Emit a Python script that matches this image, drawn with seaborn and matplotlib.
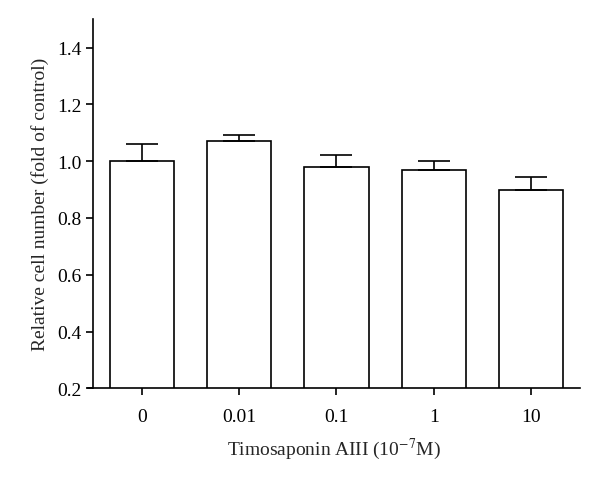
import numpy as np
import pandas as pd
import matplotlib
matplotlib.use('Agg')
import matplotlib.pyplot as plt
import seaborn as sns

# Data
doses = ['0', '0.01', '0.1', '1', '10']
means = [1.00, 1.07, 0.98, 0.97, 0.90]
sems = [0.06, 0.021, 0.043, 0.032, 0.046]

df = pd.DataFrame({'dose': doses, 'value': means})

sns.set_style('ticks')
plt.rcParams['font.family'] = ['Liberation Serif', 'DejaVu Serif']
plt.rcParams['mathtext.fontset'] = 'stix'

fig = plt.figure(figsize=(6, 4.81), dpi=100)
ax = fig.add_axes([88 / 600, 0.1906, 492 / 600, 0.7674])

sns.barplot(data=df, x='dose', y='value', order=doses, color='white',
            edgecolor='black', linewidth=1.2, width=0.66, errorbar=None, ax=ax)
for p in ax.patches:
    p.set_facecolor('white')

# upper error bars only
ax.errorbar(np.arange(len(doses)), means, yerr=[np.zeros(len(sems)), sems],
            fmt='none', ecolor='black', elinewidth=1.2, capsize=11.5,
            capthick=1.2, zorder=1)

ax.set_ylim(0.2, 1.5)
ax.set_xlim(-0.551, 4.5)
ax.set_yticks([0.2, 0.4, 0.6, 0.8, 1.0, 1.2, 1.4])
ax.set_yticklabels(['0.2', '0.4', '0.6', '0.8', '1.0', '1.2', '1.4'])

for s in ['top', 'right']:
    ax.spines[s].set_visible(False)
for s in ['left', 'bottom']:
    ax.spines[s].set_linewidth(1.2)
    ax.spines[s].set_color('black')
ax.spines['left'].set_position(('data', -0.5))

ax.tick_params(axis='both', direction='out', length=5, width=1.2,
               labelsize=14, colors='black', pad=3)
ax.tick_params(axis='x', pad=9)

ax.set_xlabel('Timosaponin AIII (10$^{-7}$M)', fontsize=14, labelpad=8)
ax.set_ylabel('Relative cell number (fold of control)', fontsize=14, labelpad=6)

fig.savefig('out.png', dpi=100)
